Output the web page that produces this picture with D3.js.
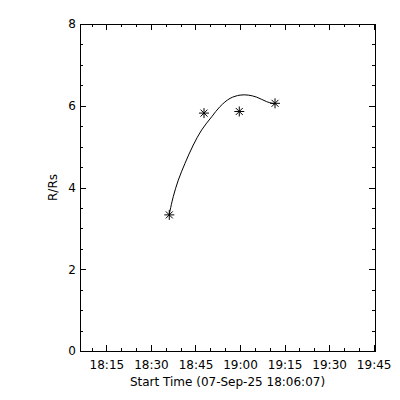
<!DOCTYPE html>
<html>
<head>
<meta charset="utf-8">
<script src="https://cdn.jsdelivr.net/npm/d3@7"></script>
<style>
  body { margin: 0; background: #fff; }
  svg { display: block; font-family: "DejaVu Sans", sans-serif; }
</style>
</head>
<body>
<div class="plot"></div>
<script>
const width = 400;
const height = 400;
const margin = {top: 24, right: 25, bottom: 49, left: 80};

// x range of the plot (time of day)
const xRange = ['18:06:07', '19:45:27'];
const yMajor = [0, 2, 4, 6, 8];

// measured points (asterisks)
const pointTimes = ['18:36:11', '18:47:52', '18:59:45', '19:11:47'];
const pointR = [3.33, 5.82, 5.86, 6.06];

// fitted curve
const curveTimes = ['18:36:11', '18:37:32', '18:39:13', '18:41:28', '18:44:16', '18:47:06', '18:50:28',
    '18:53:16', '18:56:38', '19:00:00', '19:02:47', '19:05:37', '19:08:59', '19:11:47'];
const curveR = [3.35, 3.78, 4.18, 4.59, 5.04, 5.41, 5.73, 5.98, 6.18, 6.26, 6.26, 6.21, 6.10, 6.04];

const xTitle = 'Start Time (07-Sep-25 18:06:07)';
const yTitle = 'R/Rs';

const parseTime = d3.timeParse('%H:%M:%S');

const svg = d3.select('.plot')
    .append('svg')
    .attr('width', width)
    .attr('height', height)

const x = d3.scaleTime()
    .domain(xRange.map(parseTime))
    .range([margin.left, width - margin.right])

const y = d3.scaleLinear()
    .domain([0, 8])
    .range([height - margin.bottom, margin.top])

const x0 = margin.left, x1 = width - margin.right
const y0 = height - margin.bottom, y1 = margin.top

const majorX = d3.timeMinute.every(15).range(x.domain()[0], x.domain()[1])
const minorX = d3.timeMinute.every(5).range(x.domain()[0], x.domain()[1])
const minorY = d3.range(0, 8.01, 0.5)

const axes = svg.append('g').attr('shape-rendering', 'crispEdges')

// bottom, with labels
axes.append('g')
    .attr('transform', `translate(0,${y0})`)
    .call(d3.axisBottom(x).tickValues(minorX).tickSize(-3).tickFormat(''))
axes.append('g')
    .attr('transform', `translate(0,${y0})`)
    .call(d3.axisBottom(x).tickValues(majorX).tickSize(-6).tickPadding(9).tickFormat(d3.timeFormat('%H:%M')))
// top, ticks only
axes.append('g')
    .attr('transform', `translate(0,${y1})`)
    .call(d3.axisTop(x).tickValues(minorX).tickSize(-3).tickFormat(''))
axes.append('g')
    .attr('transform', `translate(0,${y1})`)
    .call(d3.axisTop(x).tickValues(majorX).tickSize(-6).tickFormat(''))
// left, with labels
axes.append('g')
    .attr('transform', `translate(${x0},0)`)
    .call(d3.axisLeft(y).tickValues(minorY).tickSize(-3).tickFormat(''))
axes.append('g')
    .attr('transform', `translate(${x0},0)`)
    .call(d3.axisLeft(y).tickValues(yMajor).tickSize(-6).tickPadding(4).tickFormat(d3.format('d')))
// right, ticks only
axes.append('g')
    .attr('transform', `translate(${x1},0)`)
    .call(d3.axisRight(y).tickValues(minorY).tickSize(-3).tickFormat(''))
axes.append('g')
    .attr('transform', `translate(${x1},0)`)
    .call(d3.axisRight(y).tickValues(yMajor).tickSize(-6).tickFormat(''))

axes.selectAll('.domain').remove()
axes.selectAll('.tick line').attr('stroke', '#000')
axes.selectAll('.tick text')
    .attr('fill', '#000')
    .attr('font-size', 12)
    .attr('font-family', '"DejaVu Sans", sans-serif')

axes.append('rect')
    .attr('x', x0)
    .attr('y', y1)
    .attr('width', x1 - x0)
    .attr('height', y0 - y1)
    .attr('fill', 'none')
    .attr('stroke', '#000')

// axis titles
svg.append('text')
    .attr('x', (x0 + x1) / 2)
    .attr('y', 386)
    .attr('text-anchor', 'middle')
    .attr('font-size', 12)
    .text(xTitle)

svg.append('text')
    .attr('transform', `translate(56.5,${(y0 + y1) / 2}) rotate(-90)`)
    .attr('text-anchor', 'middle')
    .attr('font-size', 12)
    .text(yTitle)

// fit curve
const curveData = curveTimes.map((t, i) => ({t: parseTime(t), r: curveR[i]}))
svg.append('path')
    .datum(curveData)
    .attr('fill', 'none')
    .attr('stroke', '#000')
    .attr('stroke-width', 1)
    .attr('d', d3.line().x(d => x(d.t)).y(d => y(d.r)).curve(d3.curveCatmullRom))

// asterisk markers
const points = pointTimes.map((t, i) => ({t: parseTime(t), r: pointR[i]}))
const star = 'M-5,0H5M0,-5V5M-3.5,-3.5L3.5,3.5M-3.5,3.5L3.5,-3.5'
svg.selectAll('.pt')
    .data(points)
    .enter()
    .append('path')
    .attr('class', 'pt')
    .attr('transform', d => `translate(${x(d.t)},${y(d.r)})`)
    .attr('d', star)
    .attr('stroke', '#000')
    .attr('stroke-width', 1)
    .attr('fill', 'none')
</script>
</body>
</html>
